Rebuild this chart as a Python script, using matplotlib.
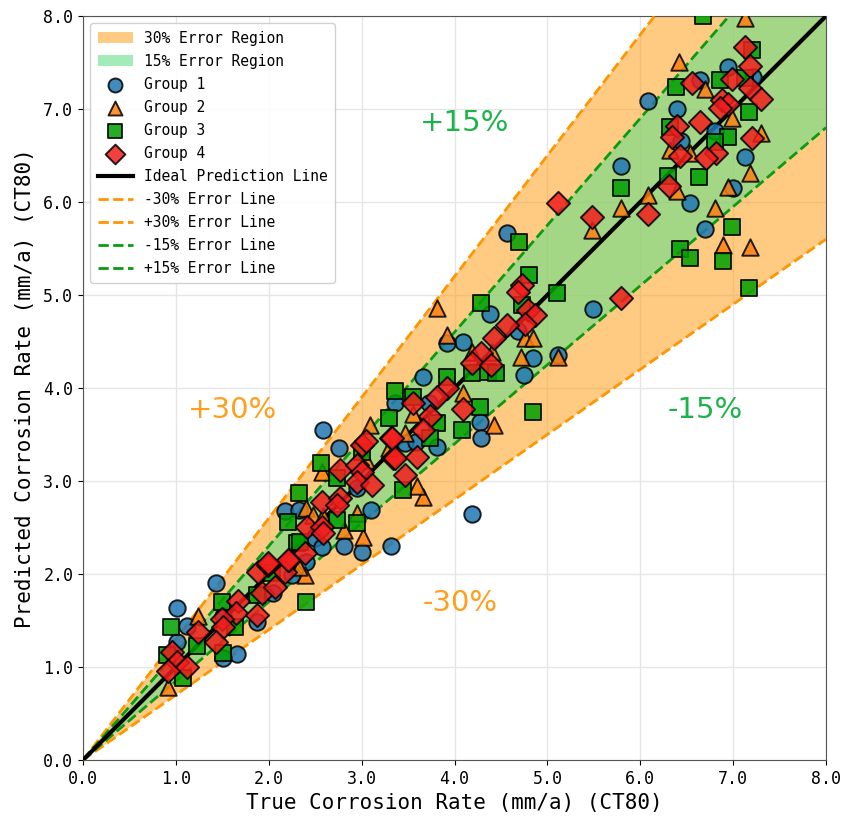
import numpy as np
import matplotlib
matplotlib.use("Agg")
import matplotlib.pyplot as plt

# true vs predicted corrosion rate (mm/a), CT80 steel, four sample groups
g1_true = [1.43, 1.01, 1.12, 1.66, 1.51, 1.01, 1.87, 2.05, 2.25, 1.51,
           2.58, 2.76, 2.17, 2.33, 3.10, 2.50, 2.57, 2.81, 3.00, 3.32,
           4.09, 3.92, 3.66, 3.36, 3.72, 4.27, 4.29, 3.47, 3.58, 3.81,
           4.56, 5.49, 4.38, 4.68, 5.11, 4.84, 4.75, 4.19, 2.40, 2.95,
           6.94, 6.64, 7.21, 6.08, 6.40, 6.80, 6.44, 7.13, 5.79, 7.00,
           6.54, 6.70]
g1_pred = [1.90, 1.63, 1.44, 1.14, 1.10, 1.27, 1.48, 1.80, 1.99, 1.55,
           3.55, 3.35, 2.68, 2.69, 2.69, 2.39, 2.29, 2.30, 2.24, 2.30,
           4.49, 4.48, 4.12, 3.84, 3.84, 3.63, 3.46, 3.41, 3.42, 3.37,
           5.67, 4.85, 4.80, 4.61, 4.35, 4.32, 4.14, 2.65, 2.13, 2.92,
           7.45, 7.31, 7.34, 7.09, 7.00, 6.76, 6.66, 6.48, 6.39, 6.15,
           5.99, 5.71]

g2_true = [1.24, 0.92, 3.09, 2.57, 3.05, 2.40, 2.48, 2.58, 2.95, 2.81, 3.01,
           3.92, 4.19, 4.40, 4.09, 3.55, 4.42, 3.47, 3.30,
           5.48, 4.76, 4.85, 3.81, 5.11, 4.72, 2.39, 2.33, 3.66, 3.60,
           7.13, 6.42, 6.70, 6.99, 7.30, 6.32, 6.54, 7.18, 6.40, 6.08, 6.94,
           5.79, 6.80, 6.89, 7.18]
g2_pred = [1.55, 0.79, 3.60, 3.10, 3.23, 2.71, 2.63, 2.62, 2.66, 2.47, 2.40,
           4.57, 4.39, 4.39, 3.95, 3.72, 3.60, 3.52, 3.35,
           5.70, 4.54, 4.54, 4.86, 4.33, 4.33, 1.99, 2.08, 2.83, 2.95,
           7.98, 7.51, 7.22, 6.90, 6.74, 6.56, 6.53, 6.31, 6.12, 6.08, 6.16,
           5.94, 5.94, 5.54, 5.52]

g3_true = [0.95, 1.50, 1.64, 1.23, 1.51, 0.90, 1.08, 1.87, 2.03, 2.30,
           3.00, 2.56, 2.74, 2.33, 2.21, 2.74, 2.95, 2.34, 2.40, 3.45,
           4.19, 4.36, 4.45, 3.92, 3.36, 3.55, 4.27, 3.30, 3.81, 4.08, 3.74,
           4.69, 4.80, 4.73, 5.10, 4.28, 4.84,
           6.68, 7.20, 6.39, 6.86, 7.13, 7.17, 6.32, 6.94, 6.80, 5.79, 6.30,
           6.63, 6.99, 6.43, 6.54, 6.89, 7.17]
g3_pred = [1.43, 1.70, 1.43, 1.23, 1.15, 1.13, 0.88, 1.77, 2.01, 2.33,
           3.31, 3.19, 3.03, 2.87, 2.56, 2.58, 2.55, 2.34, 1.70, 2.90,
           4.16, 4.17, 4.16, 4.12, 3.97, 3.90, 3.80, 3.68, 3.62, 3.55, 3.46,
           5.57, 5.22, 4.89, 5.02, 4.91, 3.74,
           8.00, 7.63, 7.24, 7.31, 7.33, 6.97, 6.81, 6.70, 6.65, 6.15, 6.28,
           6.27, 5.73, 5.49, 5.40, 5.37, 5.08]

g4_true = [1.24, 1.67, 1.65, 1.50, 1.51, 1.43, 0.96, 1.01, 1.12, 0.92,
           1.87, 1.93, 2.07, 1.88, 1.99, 2.17, 2.22,
           3.00, 3.05, 3.32, 3.34, 2.77, 2.95, 3.00, 2.95, 3.11,
           2.57, 2.77, 2.74, 2.41, 2.57, 2.58, 2.39, 2.21, 1.99,
           4.42, 4.29, 4.19, 4.39, 3.92, 3.81, 3.55, 4.09, 3.74, 3.66, 3.33,
           3.36, 3.60, 3.47,
           5.11, 5.48, 4.73, 4.68, 4.79, 4.87, 4.76, 4.56,
           7.13, 7.18, 6.56, 6.99, 7.18, 7.30, 6.88, 6.94, 6.86, 6.64, 6.40,
           6.34, 7.20, 6.43, 6.81, 6.71, 6.31, 6.08, 5.79]
g4_pred = [1.38, 1.71, 1.58, 1.52, 1.43, 1.27, 1.16, 1.05, 1.00, 0.96,
           1.56, 1.80, 1.86, 2.02, 2.10, 2.02, 2.15,
           3.39, 3.43, 3.46, 3.25, 3.12, 3.17, 3.10, 2.99, 2.96,
           2.77, 2.82, 2.74, 2.51, 2.51, 2.44, 2.23, 2.15, 2.12,
           4.54, 4.38, 4.27, 4.25, 4.00, 3.90, 3.84, 3.77, 3.70, 3.55, 3.46,
           3.25, 3.26, 3.06,
           5.99, 5.84, 5.11, 5.03, 4.84, 4.78, 4.69, 4.68,
           7.67, 7.46, 7.28, 7.32, 7.23, 7.11, 7.10, 7.05, 7.01, 6.86, 6.82,
           6.70, 6.69, 6.49, 6.53, 6.47, 6.17, 5.87, 4.97]

mono = "DejaVu Sans Mono"
plt.rcParams['font.family'] = [mono, 'Noto Sans CJK SC']

fig = plt.figure(figsize=(8.46, 8.16), dpi=100)
ax = fig.add_axes([0.0981, 0.0686, 0.8783, 0.9118])

x = np.linspace(0, 8, 200)
ax.fill_between(x, 0.7 * x, 1.3 * x, color='#ff9f1c', alpha=0.55, lw=0,
                label='30% Error Region', zorder=1)
ax.fill_between(x, 0.85 * x, 1.15 * x, color='#66e088', alpha=0.6, lw=0,
                label='15% Error Region', zorder=1)

mk = dict(edgecolors='black', linewidths=1.4, alpha=0.85, zorder=5)
ax.scatter(g1_true, g1_pred, s=140, marker='o', color='#1f77b4', label='Group 1', **mk)
ax.scatter(g2_true, g2_pred, s=140, marker='^', color='#ff7f0e', label='Group 2', **mk)
ax.scatter(g3_true, g3_pred, s=140, marker='s', color='#009f00', label='Group 3', **mk)
ax.scatter(g4_true, g4_pred, s=140, marker='D', color='#f21d1d', label='Group 4', **mk)

ax.plot(x, x, color='black', lw=3, label='Ideal Prediction Line', zorder=4)
ax.plot(x, 0.7 * x, '--', color='#ff9500', lw=2, label='-30% Error Line', zorder=3)
ax.plot(x, 1.3 * x, '--', color='#ff9500', lw=2, label='+30% Error Line', zorder=3)
ax.plot(x, 0.85 * x, '--', color='#0c9a14', lw=2, label='-15% Error Line', zorder=3)
ax.plot(x, 1.15 * x, '--', color='#0c9a14', lw=2, label='+15% Error Line', zorder=3)

# band annotations
big = dict(family='DejaVu Sans', fontsize=21, ha='center', va='center', zorder=6)
ax.text(4.11, 6.85, '+15%', color='#1db34c', **big)
ax.text(1.61, 3.76, '+30%', color='#ff9f1c', **big)
ax.text(6.70, 3.76, '-15%', color='#1db34c', **big)
ax.text(4.06, 1.69, '-30%', color='#ff9f1c', **big)

ax.set_xlim(0, 8)
ax.set_ylim(0, 8)
ticks = np.arange(0, 8.01, 1.0)
ax.set_xticks(ticks)
ax.set_yticks(ticks)
ax.set_xticklabels(['%.1f' % t for t in ticks], fontsize=12)
ax.set_yticklabels(['%.1f' % t for t in ticks], fontsize=12)
ax.grid(True, color='#e6e6e6', lw=1, zorder=0)
ax.set_axisbelow(True)
for sp in ax.spines.values():
    sp.set_color('#555555')

ax.set_xlabel('True Corrosion Rate (mm/a) (CT80)', fontsize=15, labelpad=4)
ax.set_ylabel('Predicted Corrosion Rate (mm/a) (CT80)', fontsize=15, labelpad=6)

leg = ax.legend(loc='upper left', fontsize=10.5, framealpha=0.9, markerscale=0.85,
                labelspacing=0.55, handlelength=2.4, borderpad=0.5)
leg.set_zorder(10)

fig.savefig('out.png', dpi=100)
